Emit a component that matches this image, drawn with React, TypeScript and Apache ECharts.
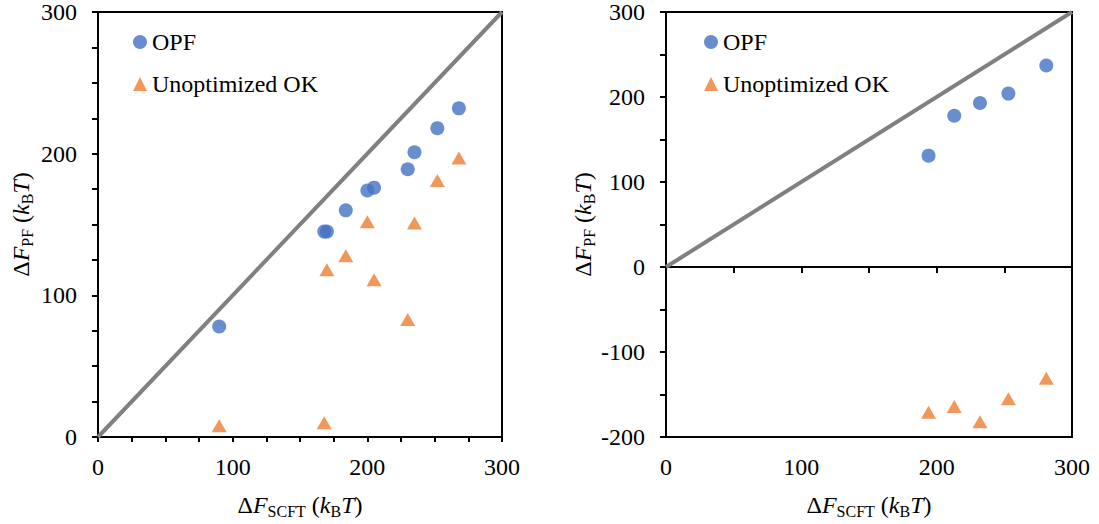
import React, { useEffect, useRef } from 'react';
import * as echarts from 'echarts';

const FONT = '"Liberation Serif", "Times New Roman", serif';

// Left panel: free energies of the OPF and unoptimized OK calculations vs SCFT
const leftScft = [90, 168, 170, 184, 200, 205, 230, 235, 252, 268];
const leftOpf = [78, 145, 145, 160, 174, 176, 189, 201, 218, 232];
const leftUnopt = [8, 10, 118, 128, 152, 111, 83, 151, 181, 197];

// Right panel
const rightScft = [194, 213, 232, 253, 281];
const rightOpf = [131, 178, 193, 204, 237];
const rightUnopt = [-171, -164, -182, -155, -131];

// y = x reference line
const parityLine = [
  [0, 0],
  [300, 300],
];

const seriesNames = ['OPF', 'Unoptimized OK'];
const leftYRange = [0, 300];
const rightYRange = [-200, 300];
const xRange = [0, 300];

const BLUE = '#4472C4';
const ORANGE = '#ED7D31';
const GREY = '#808080';

const zip = (xs: number[], ys: number[]) => xs.map((x, i) => [x, ys[i]]);
const hundreds = (v: number) => (v % 100 === 0 ? String(v) : '');

const rich = {
  n: { fontFamily: FONT, fontSize: 24, color: '#000' },
  i: { fontFamily: FONT, fontSize: 24, color: '#000', fontStyle: 'italic' },
  s: { fontFamily: FONT, fontSize: 16, color: '#000', padding: [12, 0, 0, 0] },
};
const xName = '{n|Δ}{i|F}{s|SCFT}{n| (}{i|k}{s|B}{i|T}{n|)}';
const yName = '{n|Δ}{i|F}{s|PF}{n| (}{i|k}{s|B}{i|T}{n|)}';

const black = { color: '#000', width: 2 };
const tickFont = { fontFamily: FONT, fontSize: 24, color: '#000' };

function buildOption() {
  const legend = (left: number) => ({
    left,
    top: 30,
    padding: 0,
    orient: 'vertical',
    itemWidth: 14,
    itemHeight: 14,
    itemGap: 18,
    selectedMode: false,
    textStyle: { ...tickFont },
    data: [
      { name: seriesNames[0], icon: 'circle' },
      { name: seriesNames[1], icon: 'triangle' },
    ],
  });

  const gridBase = {
    top: 12,
    height: 429,
    show: true,
    borderColor: '#000',
    borderWidth: 2,
    backgroundColor: 'transparent',
    containLabel: false,
  };

  const yAxisBase = (gridIndex: number, range: number[], interval: number) => ({
    gridIndex,
    type: 'value',
    min: range[0],
    max: range[1],
    interval,
    axisLine: { show: true, onZero: false, lineStyle: black },
    axisTick: { show: true, length: 6, lineStyle: black },
    axisLabel: { ...tickFont, margin: 21, formatter: hundreds },
    splitLine: { show: false },
    name: yName,
    nameLocation: 'middle',
    nameRotate: 90,
    nameGap: 63,
    nameTextStyle: { rich },
  });

  const scatter = (
    name: string,
    xi: number,
    yi: number,
    data: number[][],
    symbol: string,
    color: string
  ) => ({
    name,
    type: 'scatter',
    xAxisIndex: xi,
    yAxisIndex: yi,
    data,
    symbol,
    symbolSize: symbol === 'triangle' ? [15, 13] : 14,
    itemStyle: { color },
    z: 3,
  });

  const diag = (xi: number, yi: number) => ({
    type: 'line',
    xAxisIndex: xi,
    yAxisIndex: yi,
    data: parityLine,
    showSymbol: false,
    symbol: 'none',
    silent: true,
    lineStyle: { color: GREY, width: 4 },
    z: 2,
  });

  const xName0 = {
    name: xName,
    nameLocation: 'middle',
    nameGap: 54,
    nameTextStyle: { rich },
  };

  return {
    animation: false,
    backgroundColor: '#fff',
    legend: [legend(133), legend(704)],
    grid: [
      { ...gridBase, left: 98, width: 404 },
      { ...gridBase, left: 666, width: 406 },
    ],
    xAxis: [
      {
        gridIndex: 0,
        type: 'value',
        min: xRange[0],
        max: xRange[1],
        interval: 25,
        axisLine: { show: true, onZero: false, lineStyle: black },
        axisTick: { show: true, length: 5, lineStyle: black },
        axisLabel: { ...tickFont, margin: 18, formatter: hundreds },
        splitLine: { show: false },
        ...xName0,
      },
      {
        gridIndex: 1,
        type: 'value',
        position: 'bottom',
        min: xRange[0],
        max: xRange[1],
        interval: 50,
        axisLine: { show: true, onZero: false, lineStyle: black },
        axisTick: { show: false },
        axisLabel: { ...tickFont, margin: 18, formatter: hundreds },
        splitLine: { show: false },
        ...xName0,
      },
      {
        // axis line through y = 0 with its ticks, labels stay at the bottom
        gridIndex: 1,
        type: 'value',
        position: 'top',
        min: xRange[0],
        max: xRange[1],
        interval: 50,
        axisLine: { show: true, onZero: true, lineStyle: black },
        axisTick: { show: true, inside: true, length: 6, lineStyle: black },
        axisLabel: { show: false },
        splitLine: { show: false },
      },
    ],
    yAxis: [yAxisBase(0, leftYRange, 25), yAxisBase(1, rightYRange, 50)],
    series: [
      diag(0, 0),
      scatter(seriesNames[0], 0, 0, zip(leftScft, leftOpf), 'circle', BLUE),
      scatter(seriesNames[1], 0, 0, zip(leftScft, leftUnopt), 'triangle', ORANGE),
      diag(1, 1),
      scatter(seriesNames[0], 1, 1, zip(rightScft, rightOpf), 'circle', BLUE),
      scatter(seriesNames[1], 1, 1, zip(rightScft, rightUnopt), 'triangle', ORANGE),
    ],
  };
}

export default function App() {
  const ref = useRef<HTMLDivElement>(null);
  useEffect(() => {
    if (!ref.current) return;
    const chart = echarts.init(ref.current, null, { renderer: 'svg' });
    chart.setOption(buildOption() as any);
    return () => chart.dispose();
  }, []);
  return (
    <div
      ref={ref}
      style={{ position: 'fixed', left: 0, top: 0, width: 1099, height: 524, background: '#fff' }}
    />
  );
}
